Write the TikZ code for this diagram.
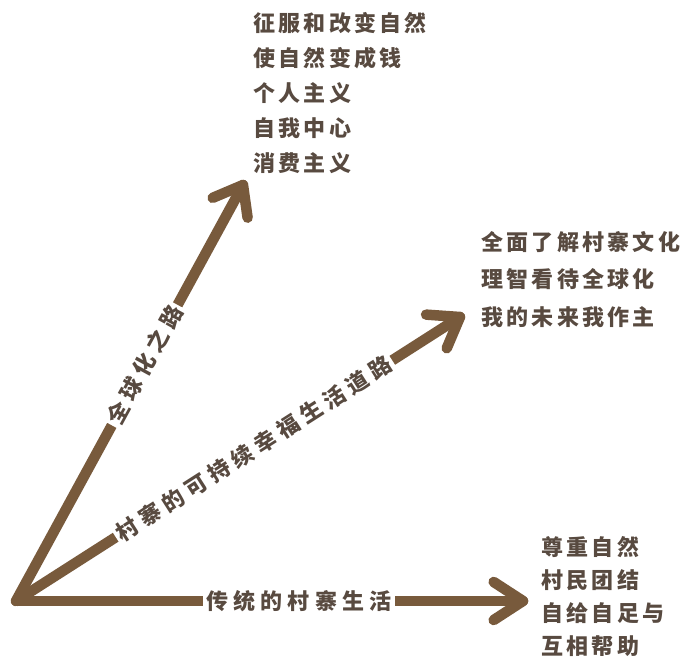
\documentclass[tikz,border=0pt]{standalone}
\usepackage{fontspec}
\newfontfamily\cjklist[LetterSpace=15]{Noto Sans CJK SC}
\newfontfamily\cjklab[LetterSpace=24]{Noto Sans CJK SC}
\definecolor{txt}{RGB}{88,74,64}
\definecolor{brn}{RGB}{120,90,60}
\tikzset{
  shaft/.style={draw=brn,line width=10.5pt,line cap=round},
  head/.style={draw=brn,line width=10.5pt,line cap=round,line join=round},
  lab/.style={fill=white,text=txt,font=\cjklab\bfseries\fontsize{22}{26}\selectfont,sloped,inner xsep=3pt,inner ysep=2pt},
  listbox/.style={text=txt,align=left,anchor=north west,inner sep=0pt}
}
\begin{document}
\begin{tikzpicture}[x=1pt,y=1pt]
\useasboundingbox (0,0) rectangle (686,666);
\fill[white] (0,0) rectangle (686,666);
\coordinate (o) at (16,65);
\coordinate (t1) at (243,481);
\coordinate (t2) at (460,349);
\coordinate (t3) at (523,65);
% shafts
\draw[shaft] (o) -- (t1) node[lab,pos=0.567] (l1) {全球化之路};
\draw[shaft] (o) -- (t2) node[lab,pos=0.536] (l2) {村寨的可持续幸福生活道路};
\draw[shaft] (o) -- (t3) node[lab,pos=0.558] (l3) {传统的村寨生活};
% heads
\draw[head] ([shift={(203:33)}]t1) -- (t1) -- ([shift={(278:33)}]t1);
\draw[head] ([shift={(176:34)}]t2) -- (t2) -- ([shift={(247:34)}]t2);
\draw[head] ([shift={(147:35)}]t3) -- (t3) -- ([shift={(213:35)}]t3);
% lists
\node[listbox,font=\cjklist\bfseries\fontsize{22}{35}\selectfont] (b1) at (253,654)
  {征服和改变自然\\使自然变成钱\\个人主义\\自我中心\\消费主义};
\node[listbox,font=\cjklist\bfseries\fontsize{22}{37.5}\selectfont] (b2) at (481,435)
  {全面了解村寨文化\\理智看待全球化\\我的未来我作主};
\node[listbox,font=\cjklist\bfseries\fontsize{22}{33}\selectfont] (b3) at (541,130)
  {尊重自然\\村民团结\\自给自足与\\互相帮助};
\end{tikzpicture}
\end{document}
